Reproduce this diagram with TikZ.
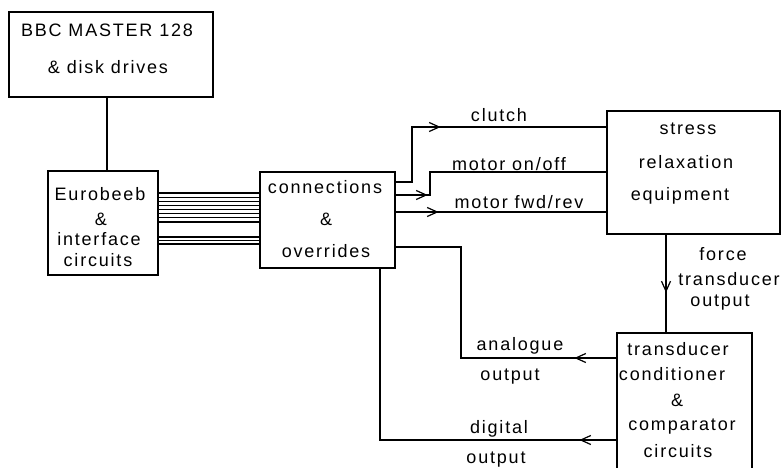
\documentclass[tikz,border=0pt]{standalone}
\usepackage{fontspec}
\setmainfont{Liberation Sans}[LetterSpace=10]
\usetikzlibrary{arrows.meta,decorations.markings}
\tikzset{
  box/.style={draw, line width=1.3pt, inner sep=0pt},
  txt/.style={inner sep=0pt, anchor=base, font=\fontsize{18}{22}\selectfont},
  conn/.style={line width=1.3pt},
  bus/.style={line width=1.1pt},
  midarrow/.style={postaction={decorate,decoration={markings,
     mark=at position #1 with {\arrow{Straight Barb[length=10pt,width=9pt,line width=1.2pt]}}}}}
}
\begin{document}
\begin{tikzpicture}[x=1pt,y=-1pt]
\useasboundingbox (0,0) rectangle (784,468);
% boxes
\node[box, minimum width=204pt, minimum height=85pt] (bbc) at (111,54.5) {};
\node[box, minimum width=110pt, minimum height=104pt] (euro) at (103,223) {};
\node[box, minimum width=135pt, minimum height=96pt] (conn) at (327.5,220) {};
\node[box, minimum width=173pt, minimum height=123pt] (stress) at (693.5,172.5) {};
\node[box, minimum width=135pt, minimum height=160pt] (trans) at (684.5,413) {};
% box texts
\node[txt] (bbc1) at (107,37) {BBC MASTER 128};
\node[txt] (bbc2) at (108,74) {\& disk drives};
\node[txt] (eu1) at (100,200) {Eurobeeb};
\node[txt] (eu2) at (101,225) {\&};
\node[txt] (eu3) at (99,245) {interface};
\node[txt] (eu4) at (98,266) {circuits};
\node[txt] (co1) at (325,193) {connections};
\node[txt] (co2) at (326,225) {\&};
\node[txt] (co3) at (326,257) {overrides};
\node[txt] (st1) at (688,135) {stress};
\node[txt] (st2) at (686,168) {relaxation};
\node[txt] (st3) at (680,200) {equipment};
\node[txt] (tr1) at (678,355) {transducer};
\node[txt] (tr2) at (672,380) {conditioner};
\node[txt] (tr3) at (677,406) {\&};
\node[txt] (tr4) at (682,430) {comparator};
\node[txt] (tr5) at (678,457) {circuits};
% labels
\node[txt] (lclutch) at (499,122) {clutch};
\node[txt] (lonoff) at (509,170) {motor on/off};
\node[txt] (lfwd) at (519,208) {motor fwd/rev};
\node[txt] (lf1) at (723,260) {force};
\node[txt] (lf2) at (729,285) {transducer};
\node[txt] (lf3) at (720,306) {output};
\node[txt] (la1) at (520,350) {analogue};
\node[txt] (la2) at (510,380) {output};
\node[txt] (ld1) at (499,433) {digital};
\node[txt] (ld2) at (496,463) {output};
% connectors
\draw[conn] (bbc.south -| 107,0) -- (euro.north -| 107,0);
\foreach \yy in {193,197.2,201.3,205.4,209.5,213.6,217.8,222,237,240.5,244}
  \draw[bus] (euro.east |- 0,\yy) -- (conn.west |- 0,\yy);
\draw[conn, midarrow=100pt] (conn.east |- 0,182) -| (412,127) -- (stress.west |- 0,127);
\draw[conn, midarrow=32pt] (conn.east |- 0,195) -| (430,172) -- (stress.west |- 0,172);
\draw[conn, midarrow=43pt] (conn.east |- 0,212) -- (stress.west |- 0,212);
\draw[conn, midarrow=58pt] (stress.south -| 666,0) -- (trans.north -| 666,0);
\draw[conn, midarrow=42pt] (trans.west |- 0,358) -| (461,247) -- (conn.east |- 0,247);
\draw[conn, midarrow=37pt] (trans.west |- 0,440) -| (conn.south -| 380,0);
\end{tikzpicture}
\end{document}
